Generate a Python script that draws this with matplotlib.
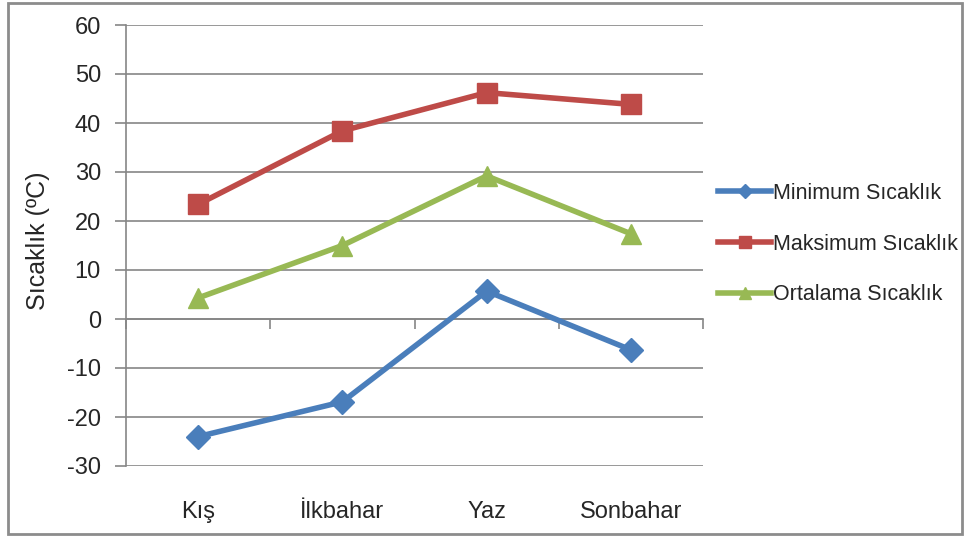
import numpy as np
import matplotlib
matplotlib.use('Agg')
import matplotlib.pyplot as plt
from matplotlib.patches import Rectangle

seasons = ['Kış', 'İlkbahar', 'Yaz', 'Sonbahar']
min_temp = [-24.0, -16.9, 5.7, -6.3]
max_temp = [23.4, 38.4, 46.2, 43.8]
avg_temp = [4.3, 15.0, 29.2, 17.4]
series_names = ['Minimum Sıcaklık', 'Maksimum Sıcaklık', 'Ortalama Sıcaklık']
y_ticks = [-30, -20, -10, 0, 10, 20, 30, 40, 50, 60]

plt.rcParams['font.family'] = ['Liberation Sans', 'DejaVu Sans']
plt.rcParams['axes.unicode_minus'] = False
grid_col = '#868686'
text_col = '#262626'

W, H = 966, 536
fig = plt.figure(figsize=(W / 100, H / 100), dpi=100)
ax = fig.add_axes([126 / W, 1 - 466 / H, (703 - 126) / W, (466 - 25) / H])

x = np.arange(1, len(seasons) + 1)
ax.plot(x, min_temp, color='#4A7EBB', lw=4, marker='D', ms=12, label=series_names[0])
ax.plot(x, max_temp, color='#BE4B48', lw=4, marker='s', ms=14, label=series_names[1])
ax.plot(x, avg_temp, color='#98B954', lw=4, marker='^', ms=15, label=series_names[2])

ax.set_xlim(0.5, len(seasons) + 0.5)
ax.set_ylim(-30, 60)
ax.set_yticks(y_ticks)
ax.yaxis.grid(True, color=grid_col, lw=1.2)
ax.set_axisbelow(True)
for s in ['top', 'right', 'bottom']:
    ax.spines[s].set_visible(False)
ax.spines['left'].set_color(grid_col)
ax.spines['left'].set_linewidth(1.2)
ax.tick_params(axis='y', length=8, width=1.2, color=grid_col, pad=10,
               labelsize=17, labelcolor=text_col)

# category labels at the bottom
ax.set_xticks(x)
ax.set_xticklabels(seasons)
ax.tick_params(axis='x', length=0, pad=25, labelsize=17, labelcolor=text_col)

# category axis crossing at zero
zero_frac = (0 - ax.get_ylim()[0]) / (ax.get_ylim()[1] - ax.get_ylim()[0])
sec = ax.secondary_xaxis(zero_frac)
sec.set_xticks(np.arange(0.5, len(seasons) + 1, 1.0))
sec.set_xticklabels([])
sec.tick_params(length=7, width=1.2, color=grid_col, direction='out')
sec.spines['bottom'].set_color(grid_col)
sec.spines['bottom'].set_linewidth(1.2)

ax.set_ylabel('Sıcaklık (ºC)', fontsize=18, color=text_col)
ax.yaxis.set_label_coords(50 / W, 1 - 241 / H, transform=fig.transFigure)

leg = ax.legend(loc='center left', bbox_to_anchor=(701 / W, 1 - 244 / H),
                bbox_transform=fig.transFigure, frameon=False, fontsize=15.5,
                handlelength=2.45, handletextpad=0.1, labelspacing=1.38,
                markerscale=0.6, borderpad=0.3)
for t in leg.get_texts():
    t.set_color(text_col)

fig.add_artist(Rectangle((8 / W, 1 - 534 / H), (962 - 8) / W, (534 - 3) / H,
                         transform=fig.transFigure, fill=False,
                         edgecolor='#8c8c8c', lw=2))

fig.savefig('out.png', dpi=100)
